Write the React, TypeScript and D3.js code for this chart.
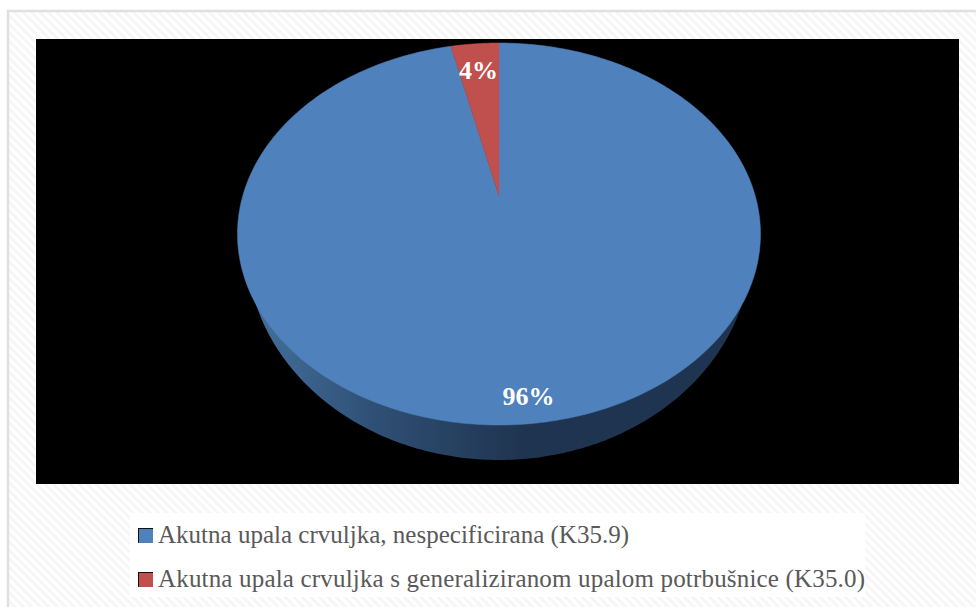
import React from "react";
import * as d3 from "d3";

const categories = [
  "Akutna upala crvuljka, nespecificirana (K35.9)",
  "Akutna upala crvuljka s generaliziranom upalom potrbušnice (K35.0)",
];
const values = [96.4, 3.6];
const valueLabels = ["96%", "4%"];
const colors = ["#4f81bd", "#c0504d"];

const W = 976, H = 607;
const cx = 499, apexY = 196, topY = 43, botY = 425, halfWidth = 261.5;
const wallCy = 248, wallRx = 252, wallRy = 212;
const spanUp = apexY - topY, spanDown = botY - apexY;
const k = (spanDown - spanUp) / (spanDown + spanUp);
const b = spanUp * (1 + k);
const a = halfWidth * Math.sqrt(1 - k * k);

// perspective projection of a disc (clockwise angle from 12 o'clock)
const project = (angle: number): [number, number] => {
  const u = Math.sin(angle), v = Math.cos(angle);
  return [cx + (a * u) / (1 + k * v), apexY - (b * v) / (1 + k * v)];
};

const arcs = d3.pie<number>().sort(null)(values);
const line = d3.line();
const sliceAngles = (s: number, e: number) => {
  const n = Math.max(4, Math.ceil(((e - s) / (2 * Math.PI)) * 360));
  return d3.range(n + 1).map((i) => s + ((e - s) * i) / n);
};
const slicePath = (s: number, e: number) =>
  line([[cx, apexY], ...sliceAngles(s, e).map((t) => project(t))]) + "Z";
const wallPath = () =>
  line(
    sliceAngles(Math.PI / 2, (3 * Math.PI) / 2).map(
      (t) => [cx + wallRx * Math.sin(t), wallCy - wallRy * Math.cos(t)] as [number, number]
    )
  ) + "Z";

export default function App() {
  const legendBase = [543, 587];
  const legendWidth = [471, 707];
  return (
    <svg width={W} height={H} viewBox={`0 0 ${W} ${H}`}
      style={{ position: "absolute", left: 0, top: 0, display: "block" }}>
      <defs>
        <pattern id="hatch" width="6" height="6" patternUnits="userSpaceOnUse" patternTransform="rotate(-45)">
          <rect width="6" height="6" fill="#ffffff" />
          <rect width="3" height="6" fill="#f6f6f6" />
        </pattern>
        <linearGradient id="wall" gradientUnits="userSpaceOnUse" x1={cx - wallRx} x2={cx + wallRx} y1="0" y2="0">
          <stop offset="0" stopColor="#44719f" />
          <stop offset="0.25" stopColor="#2f5075" />
          <stop offset="0.55" stopColor="#1f3450" />
          <stop offset="1" stopColor="#1f3450" />
        </linearGradient>
      </defs>
      <rect width={W} height={H} fill="#fff" />
      <rect x={8} y={11} width={W} height={H} fill="url(#hatch)" stroke="#e0e0e0" strokeWidth={2.5} />
      <rect x={36} y={39} width={923} height={445} fill="#000" />
      <path d={wallPath()} fill="url(#wall)" />
      {arcs.map((d, i) => (
        <path key={i} d={slicePath(d.startAngle, d.endAngle)} fill={colors[i]} stroke={colors[i]} strokeWidth={0.5} />
      ))}
      <g fontFamily="'Liberation Serif', serif" fontWeight="bold" fontSize={26} fill="#fff" textAnchor="middle">
        <text x={528.5} y={405}>{valueLabels[0]}</text>
        <text x={478.5} y={79}>{valueLabels[1]}</text>
      </g>
      <rect x={130} y={513} width={735} height={84} fill="#fff" />
      {categories.map((c, i) => (
        <g key={c}>
          <rect x={138} y={legendBase[i] - 15} width={15} height={15} fill="#111" />
          <rect x={139} y={legendBase[i] - 14} width={14} height={14} fill={colors[i]} />
          <text x={158} y={legendBase[i]} fontFamily="'Liberation Serif', serif" fontSize={25}
            textLength={legendWidth[i]} lengthAdjust="spacing" fill="#595959">{c}</text>
        </g>
      ))}
    </svg>
  );
}
